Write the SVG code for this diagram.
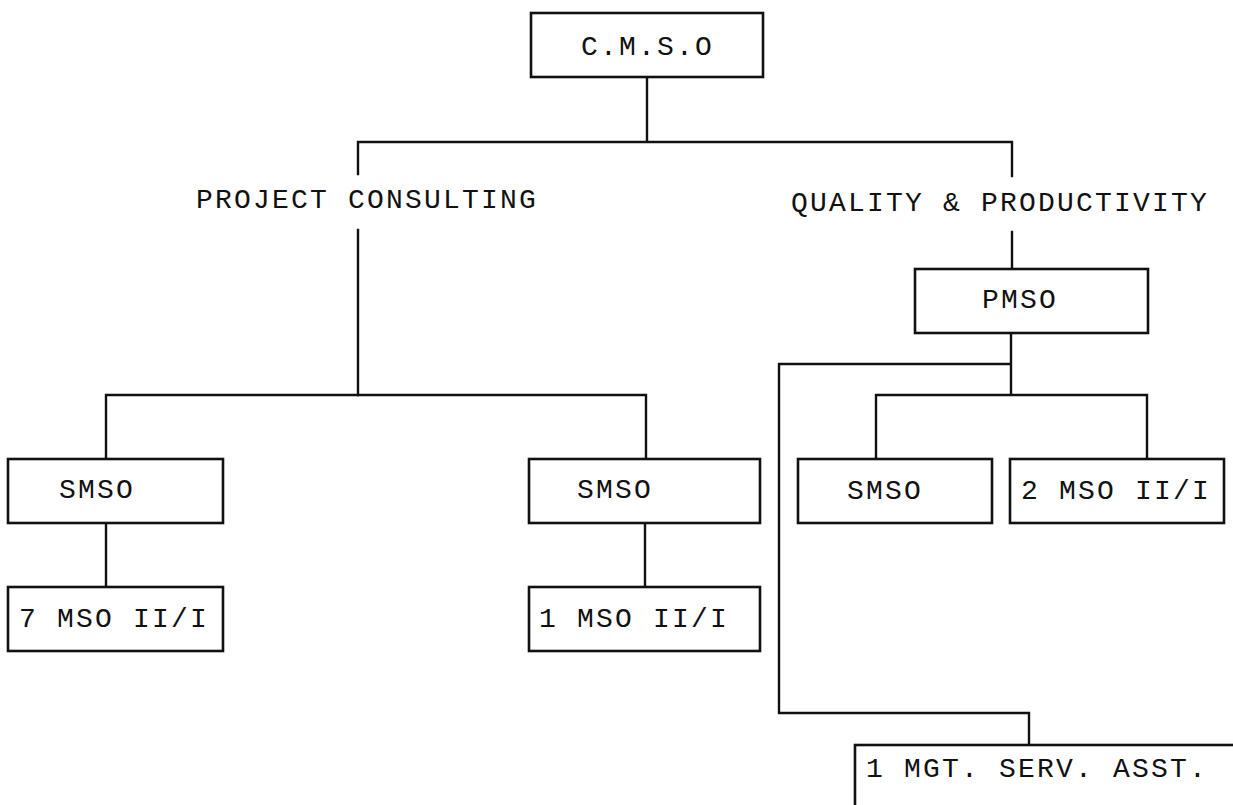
<svg xmlns="http://www.w3.org/2000/svg" width="1233" height="805" viewBox="0 0 1233 805">
<style>
.box{fill:#fff;stroke:#111;stroke-width:2.6}
.ln{fill:none;stroke:#111;stroke-width:2.4;stroke-linecap:square}
.t{font-family:"Liberation Mono","Courier New",monospace;font-size:28px;letter-spacing:2.2px;fill:#111}
</style>
<rect width="1233" height="805" fill="#fff"/>
<g id="connectors">
<path class="ln" d="M647 77V142M358 142H1012M358 142V174M358 230V395M1012 142V176M1012 232V269"/>
<path class="ln" d="M106 395H646M106 395V459M646 395V459M106 523V587M645 523V587"/>
<path class="ln" d="M1011 333V395M779 364H1011M779 364V713H1029V745M876 395H1147M876 395V459M1147 395V459"/>
</g>
<g id="cmso"><rect class="box" x="531" y="13" width="232" height="64"/><text class="t" x="581" y="55">C.M.S.O</text></g>
<g id="project-consulting"><text class="t" x="196" y="208">PROJECT CONSULTING</text></g>
<g id="quality-productivity"><text class="t" x="791" y="211">QUALITY &amp; PRODUCTIVITY</text></g>
<g id="pmso"><rect class="box" x="915" y="269" width="233" height="64"/><text class="t" x="982" y="308">PMSO</text></g>
<g id="smso-left"><rect class="box" x="8" y="459" width="215" height="64"/><text class="t" x="59" y="498">SMSO</text></g>
<g id="mso7"><rect class="box" x="8" y="587" width="215" height="64"/><text class="t" x="19" y="627">7 MSO II/I</text></g>
<g id="smso-mid"><rect class="box" x="529" y="459" width="231" height="64"/><text class="t" x="577" y="498">SMSO</text></g>
<g id="mso1"><rect class="box" x="529" y="587" width="231" height="64"/><text class="t" x="539" y="627">1 MSO II/I</text></g>
<g id="smso-right"><rect class="box" x="798" y="459" width="194" height="64"/><text class="t" x="847" y="499">SMSO</text></g>
<g id="mso2"><rect class="box" x="1010" y="459" width="214" height="64"/><text class="t" x="1021" y="499">2 MSO II/I</text></g>
<g id="mgt"><rect class="box" x="855" y="745" width="400" height="100"/><text class="t" x="866" y="777">1 MGT. SERV. ASST.</text></g>
</svg>
